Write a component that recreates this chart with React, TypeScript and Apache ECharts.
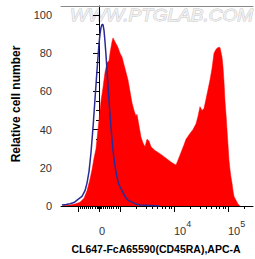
import React, { useEffect, useRef } from 'react';
import * as echarts from 'echarts';

// Display transform (biexponential-like, channels; 54 channels per decade above 10^3)
const T = (v: number): number => {
  const a = Math.abs(v);
  const s = v < 0 ? -1 : 1;
  if (a <= 1000) return (21 * v) / 1000;
  return s * (21 + 54 * Math.log10(a / 1000));
};

// Histogram of stained sample (x in display channels, y = relative cell number)
const redData: [number, number][] = [
  [-36, 0.3], [-29, 0.5], [-24, 1], [-19, 2], [-15, 4], [-12, 8], [-9, 14], [-7, 19], [-5, 25],
  [-3, 30], [-1, 40], [0, 45], [2, 55], [4, 62], [6, 70], [8, 75], [10, 76], [11, 80], [13, 86],
  [14, 88], [17, 85], [19, 83], [21, 80], [23, 78], [25, 74], [27, 70], [29, 66], [31, 60],
  [33, 54], [35, 50], [37, 47], [38, 48], [40, 42], [42, 36], [44, 33], [46, 31], [48, 35],
  [50, 34], [52, 31], [56, 29], [62, 27], [67, 25], [72, 23], [75, 22], [77, 21.5], [79, 24],
  [82, 28], [85, 32], [87, 35], [91, 38], [94, 40], [97, 43], [99, 47], [101, 52], [103, 50],
  [105, 51], [107, 56], [109, 61], [111, 66], [113, 72], [115, 80], [117, 82], [119, 83],
  [121, 83], [123, 78], [124, 73], [125, 65], [126, 55], [127, 48], [128, 40], [129, 32],
  [130, 24], [131, 19], [132, 15], [133, 12], [134, 8], [135, 5], [137, 3], [139, 1], [141, 0],
];

// Isotype control histogram
const blueData: [number, number][] = [
  [-37, 0.5], [-33, 0.8], [-29, 1.2], [-25, 1.8], [-21, 3.5], [-17, 5], [-14, 8], [-12, 12],
  [-10, 18], [-8, 28], [-6, 41], [-4, 56], [-2, 71], [0, 85], [1, 90], [2, 93.5], [3, 95], [4, 95],
  [5, 92], [6, 86], [7, 79], [8, 71], [9, 63], [10, 55], [11, 48], [12, 41], [13, 35], [14, 29], [16, 21],
  [18, 15], [20, 11], [23, 8], [26, 5], [29, 3], [33, 2], [37, 1], [41, 0.5], [51, 0.3], [60, 0],
];

const yMajor = [0, 20, 40, 60, 80, 100];
const yMinor = [5, 10, 15, 25, 30, 35, 45, 50, 55, 65, 70, 75, 85, 90, 95];

const xMajor = [-1000, 0, 1000, 10000, 100000];
const xMinor = [
  -900, -800, -700, -600, -500, -400, -300, -200, -100,
  -90, -80, -70, -60, -50, -40, -30, -20, -10,
  10, 20, 30, 40, 50, 60, 70, 80, 90,
  100, 200, 300, 400, 500, 600, 700, 800, 900,
  2000, 3000, 4000, 5000, 6000, 7000, 8000, 9000,
  20000, 30000, 40000, 50000, 60000, 70000, 80000, 90000,
  200000,
];
const xLabelValues = [0, 10000, 100000];
const xLabelBase = ['0', '10', '10'];
const xLabelExp = [' ', '4', '5'];

const X_MIN = -38;
const X_MAX = 154;
const Y_MAX = 104.7;

const FONT = '"Liberation Sans", Arial, sans-serif';

export default function App() {
  const ref = useRef<HTMLDivElement>(null);
  useEffect(() => {
    if (!ref.current) return;
    const chart = echarts.init(ref.current, null, { renderer: 'svg' });
    const labelPos = xLabelValues.map(T);
    const option: any = {
      animation: false,
      backgroundColor: '#ffffff',
      textStyle: { fontFamily: FONT },
      grid: { left: 61, right: 2, top: 6, bottom: 53, containLabel: false, outerBoundsMode: 'none' },
      xAxis: [
        {
          type: 'value', min: X_MIN, max: X_MAX, position: 'bottom',
          axisLine: { show: true, lineStyle: { color: '#000', width: 1 } },
          axisTick: { show: true, customValues: xMajor.map(T), length: 6, lineStyle: { color: '#000' } },
          axisLabel: {
            customValues: labelPos,
            margin: 13,
            align: 'left',
            formatter: (v: number) => {
              let idx = 0;
              let best = Infinity;
              labelPos.forEach((p, i) => { const d = Math.abs(p - v); if (d < best) { best = d; idx = i; } });
              return `{b|${xLabelBase[idx]}}{s|${xLabelExp[idx]}}`;
            },
            rich: {
              b: { fontSize: 11, color: '#333', fontFamily: FONT },
              s: { fontSize: 9, color: '#333', fontFamily: FONT, padding: [0, 0, 14, 0] },
            },
          },
          splitLine: { show: false },
        },
        {
          type: 'value', min: X_MIN, max: X_MAX, position: 'bottom',
          axisLine: { show: false },
          axisTick: { show: true, customValues: xMinor.map(T), length: 3, lineStyle: { color: '#000' } },
          axisLabel: { show: false },
          splitLine: { show: false },
        },
        {
          type: 'value', min: X_MIN, max: X_MAX, position: 'top',
          axisLine: { show: true, lineStyle: { color: '#888', width: 1 } },
          axisTick: { show: false },
          axisLabel: { show: false },
          splitLine: { show: false },
        },
      ],
      yAxis: [
        {
          type: 'value', min: 0, max: Y_MAX, position: 'left',
          axisLine: { show: true, lineStyle: { color: '#000', width: 1 } },
          axisTick: { show: true, customValues: yMajor, length: 6, lineStyle: { color: '#000' } },
          axisLabel: { customValues: yMajor, fontSize: 11, color: '#333', margin: 9, fontFamily: FONT },
          splitLine: { show: false },
        },
        {
          type: 'value', min: 0, max: Y_MAX, position: 'left',
          axisLine: { show: false },
          axisTick: { show: true, customValues: yMinor, length: 3, lineStyle: { color: '#000' } },
          axisLabel: { show: false },
          splitLine: { show: false },
        },
      ],
      graphic: [
        {
          type: 'text', x: 70, y: 7, scaleX: 1.12, silent: true, z: 0,
          style: {
            text: 'WWW.PTGLAB.COM', font: `italic 17px ${FONT}`,
            fill: '#f0f0f0', stroke: '#c8c8c8', lineWidth: 0.9,
          },
        },
        {
          type: 'text', x: 16, y: 104, rotation: Math.PI / 2,
          style: {
            text: 'Relative cell number', font: `bold 12px ${FONT}`, fill: '#000',
            textAlign: 'center', textVerticalAlign: 'middle',
          },
        },
        {
          type: 'text', x: 156, y: 248.5,
          style: {
            text: 'CL647-FcA65590(CD45RA),APC-A', font: `bold 10.5px ${FONT}`, fill: '#000',
            textAlign: 'center', textVerticalAlign: 'middle',
          },
        },
      ],
      series: [
        {
          type: 'line', xAxisIndex: 0, yAxisIndex: 0, data: redData, showSymbol: false, symbol: 'none',
          lineStyle: { width: 0.5, color: '#ff0000' }, areaStyle: { color: '#ff0000', opacity: 1 },
          itemStyle: { color: '#ff0000' }, z: 2,
        },
        {
          type: 'line', xAxisIndex: 0, yAxisIndex: 0, data: blueData, showSymbol: false, symbol: 'none',
          lineStyle: { width: 1.5, color: '#2b2b96' }, itemStyle: { color: '#2b2b96' }, z: 3,
        },
      ],
    };
    chart.setOption(option);
    return () => chart.dispose();
  }, []);
  return <div ref={ref} style={{ position: 'absolute', left: 0, top: 0, width: 255, height: 259 }} />;
}
